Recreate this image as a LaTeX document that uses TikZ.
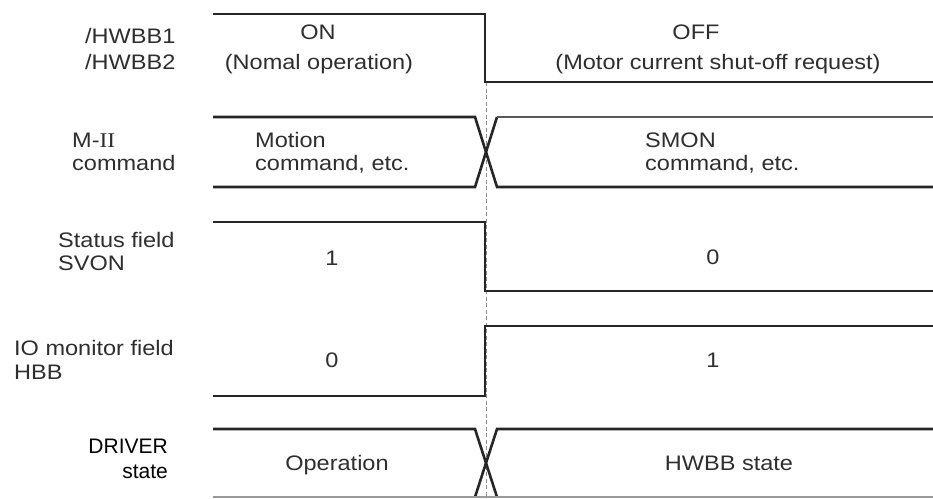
\documentclass[tikz,border=0pt]{standalone}
\usepackage{fontspec}
\setmainfont{Liberation Sans}[FakeStretch=1.12]
\newfontfamily\plainsans{Liberation Sans}
\newfontfamily\romfont{Liberation Serif}[FakeStretch=1.12]
\begin{document}
\begin{tikzpicture}[x=1pt,y=-1pt,
  wave/.style={line width=2.6pt, draw=black!85, line join=miter, line cap=butt},
  thinwave/.style={line width=1.4pt, draw=black!40},
  guide/.style={line width=1pt, draw=black!45, dash pattern=on 4pt off 2.5pt},
  lbl/.style={inner sep=0pt, font=\fontsize{21}{23}\selectfont, text=black!82},
  drv/.style={inner sep=0pt, font=\plainsans\fontsize{21}{23}\selectfont, text=black}]
\useasboundingbox (0,0) rectangle (933,498);
\fill[white] (0,0) rectangle (933,498);

% ---------- coordinates ----------
\coordinate (h0) at (213,14);  \coordinate (h1) at (485,14);
\coordinate (h2) at (485,82);  \coordinate (h3) at (933,82);
\coordinate (mTL) at (213,117); \coordinate (mTa) at (475,117); \coordinate (mTb) at (497,117); \coordinate (mTR) at (933,117);
\coordinate (mBL) at (213,187); \coordinate (mBa) at (475,187); \coordinate (mBb) at (497,187); \coordinate (mBR) at (933,187);
\coordinate (s0) at (213,222); \coordinate (s1) at (485,222);
\coordinate (s2) at (485,291); \coordinate (s3) at (933,291);
\coordinate (b0) at (213,396); \coordinate (b1) at (485,396);
\coordinate (b2) at (485,326); \coordinate (b3) at (933,326);
\coordinate (dTL) at (213,429); \coordinate (dTa) at (475,429); \coordinate (dTb) at (497,429); \coordinate (dTR) at (933,429);
\coordinate (dBL) at (213,497); \coordinate (dBa) at (475,497); \coordinate (dBb) at (497,497); \coordinate (dBR) at (933,497);
\coordinate (g0) at (486,82); \coordinate (g1) at (486,498);

% ---------- guide line ----------
\draw[guide] (g0) -- (g1);

% ---------- waveforms ----------
\draw[wave] (h0) -- (h1) -- (h2) -- (h3);
\draw[wave] (mTL) -- (mTa) -- (mBb) -- (mBR);
\draw[wave] (mBL) -- (mBa) -- (mTb);
\draw[wave, draw=black!65] (mTb) -- (mTR);
\draw[wave] (s0) -- (s1) -- (s2) -- (s3);
\draw[wave] (b0) -- (b1) -- (b2) -- (b3);
\draw[wave] (dTL) -- (dTa) -- (dBb);
\draw[wave] (dBa) -- (dTb) -- (dTR);
\draw[thinwave] (dBL) -- (dBR);

% ---------- row labels ----------
\node[lbl, anchor=base west] (lh1) at (85,43) {/HWBB1};
\node[lbl, anchor=base west] (lh2) at (85,69) {/HWBB2};
\node[lbl, anchor=base west] (lm1) at (72,147) {M-{\romfont II}};
\node[lbl, anchor=base west] (lm2) at (72,170) {command};
\node[lbl, anchor=base west] (ls1) at (58,247) {Status field};
\node[lbl, anchor=base west] (ls2) at (58,270) {SVON};
\node[lbl, anchor=base west] (lb1) at (14,355) {IO monitor field};
\node[lbl, anchor=base west] (lb2) at (14,379) {HBB};
\node[drv, anchor=base east] (ld1) at (168,453) {DRIVER};
\node[drv, anchor=base east] (ld2) at (168,478) {state};

% ---------- values ----------
\node[lbl, anchor=base] (on) at (318,39.5) {ON};
\node[lbl, anchor=base] (onx) at (319,69) {(Nomal operation)};
\node[lbl, anchor=base] (off) at (696,39.5) {OFF};
\node[lbl, anchor=base] (offx) at (718,69) {(Motor current shut-off request)};
\node[lbl, anchor=base west] (mo1) at (255,147) {Motion};
\node[lbl, anchor=base west] (mo2) at (255,170) {command, etc.};
\node[lbl, anchor=base west] (sm1) at (645,147) {SMON};
\node[lbl, anchor=base west] (sm2) at (645,170) {command, etc.};
\node[lbl, anchor=base] (sv1) at (332,265.5) {1};
\node[lbl, anchor=base] (sv0) at (713,264.5) {0};
\node[lbl, anchor=base] (hb0) at (332,367) {0};
\node[lbl, anchor=base] (hb1) at (713,367) {1};
\node[lbl, anchor=base] (op) at (337,470) {Operation};
\node[lbl, anchor=base] (hw) at (729,470) {HWBB state};
\end{tikzpicture}
\end{document}
